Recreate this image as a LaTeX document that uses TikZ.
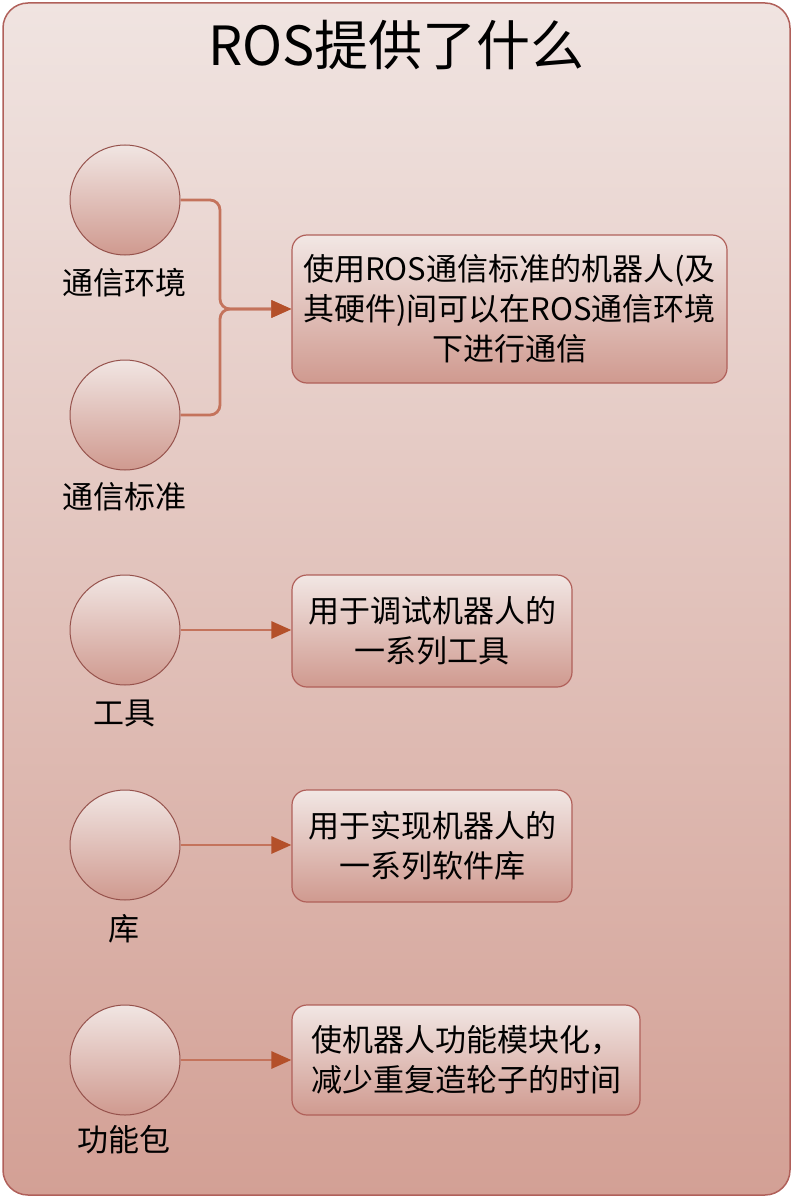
\documentclass[tikz,border=0pt]{standalone}
\usepackage{fontspec}
\setmainfont{Noto Sans CJK SC}
\usetikzlibrary{arrows.meta}
\definecolor{fondoarriba}{HTML}{F0E4E1}
\definecolor{fondoabajo}{HTML}{D3A095}
\definecolor{borde}{HTML}{B0605A}
\definecolor{linea}{HTML}{C4735C}
\definecolor{punta}{HTML}{B4502A}
\tikzstyle{marco} = [draw=borde, line width=1.5pt, rounded corners=25pt, top color=fondoarriba, bottom color=fondoabajo]
\tikzstyle{circulo} = [circle, draw=borde!85!black, line width=1pt, minimum size=110pt, inner sep=0pt, top color=fondoarriba!95!white, bottom color=fondoabajo!90!borde]
\tikzstyle{caja} = [draw=borde, line width=1.2pt, rounded corners=15pt, align=center, inner sep=0pt, top color=fondoarriba!90!white, bottom color=fondoabajo!90!borde, font=\fontsize{31}{40}\selectfont]
\tikzstyle{etiqueta} = [font=\fontsize{31}{40}\selectfont]
\tikzstyle{flecha} = [draw=linea, line width=2.8pt, rounded corners=10pt, -{Triangle[length=20pt,width=17pt,color=punta]}]

\begin{document}
\begin{tikzpicture}[x=1pt,y=-1pt]
	\useasboundingbox (0,0) rectangle (793,1198);
	\path[marco] (3,3) rectangle (790,1195);
	\node[font=\fontsize{54}{56}\selectfont] (titulo) at (396.5,45) {ROS提供了什么};

	\node[circulo] (c1) at (125,200) {};
	\node[circulo] (c2) at (125,415) {};
	\node[circulo] (c3) at (125,630) {};
	\node[circulo] (c4) at (125,845) {};
	\node[circulo] (c5) at (125,1060) {};
	\node[etiqueta] (e1) at (124,283) {通信环境};
	\node[etiqueta] (e2) at (124,497) {通信标准};
	\node[etiqueta] (e3) at (124,713) {工具};
	\node[etiqueta] (e4) at (124,929) {库};
	\node[etiqueta] (e5) at (124,1140) {功能包};

	\node[caja, minimum width=435pt, minimum height=148pt] (b1) at (509.5,309) {使用ROS通信标准的机器人(及\\其硬件)间可以在ROS通信环境\\下进行通信};
	\node[caja, minimum width=280pt, minimum height=112pt] (b2) at (432,631) {用于调试机器人的\\一系列工具};
	\node[caja, minimum width=280pt, minimum height=112pt] (b3) at (432,846) {用于实现机器人的\\一系列软件库};
	\node[caja, align=left, minimum width=348pt, minimum height=110pt] (b4) at (466,1060) {使机器人功能模块化，\\减少重复造轮子的时间};

	\coordinate (junta) at (220,309);
	\draw[flecha] (c1.east) -| (junta) -- (b1.west);
	\draw[flecha] (c2.east) -| (junta) -- (b1.west);
	\draw[flecha] (c3.east) -- (c3.east -| b2.west);
	\draw[flecha] (c4.east) -- (c4.east -| b3.west);
	\draw[flecha] (c5.east) -- (c5.east -| b4.west);
\end{tikzpicture}
\end{document}
